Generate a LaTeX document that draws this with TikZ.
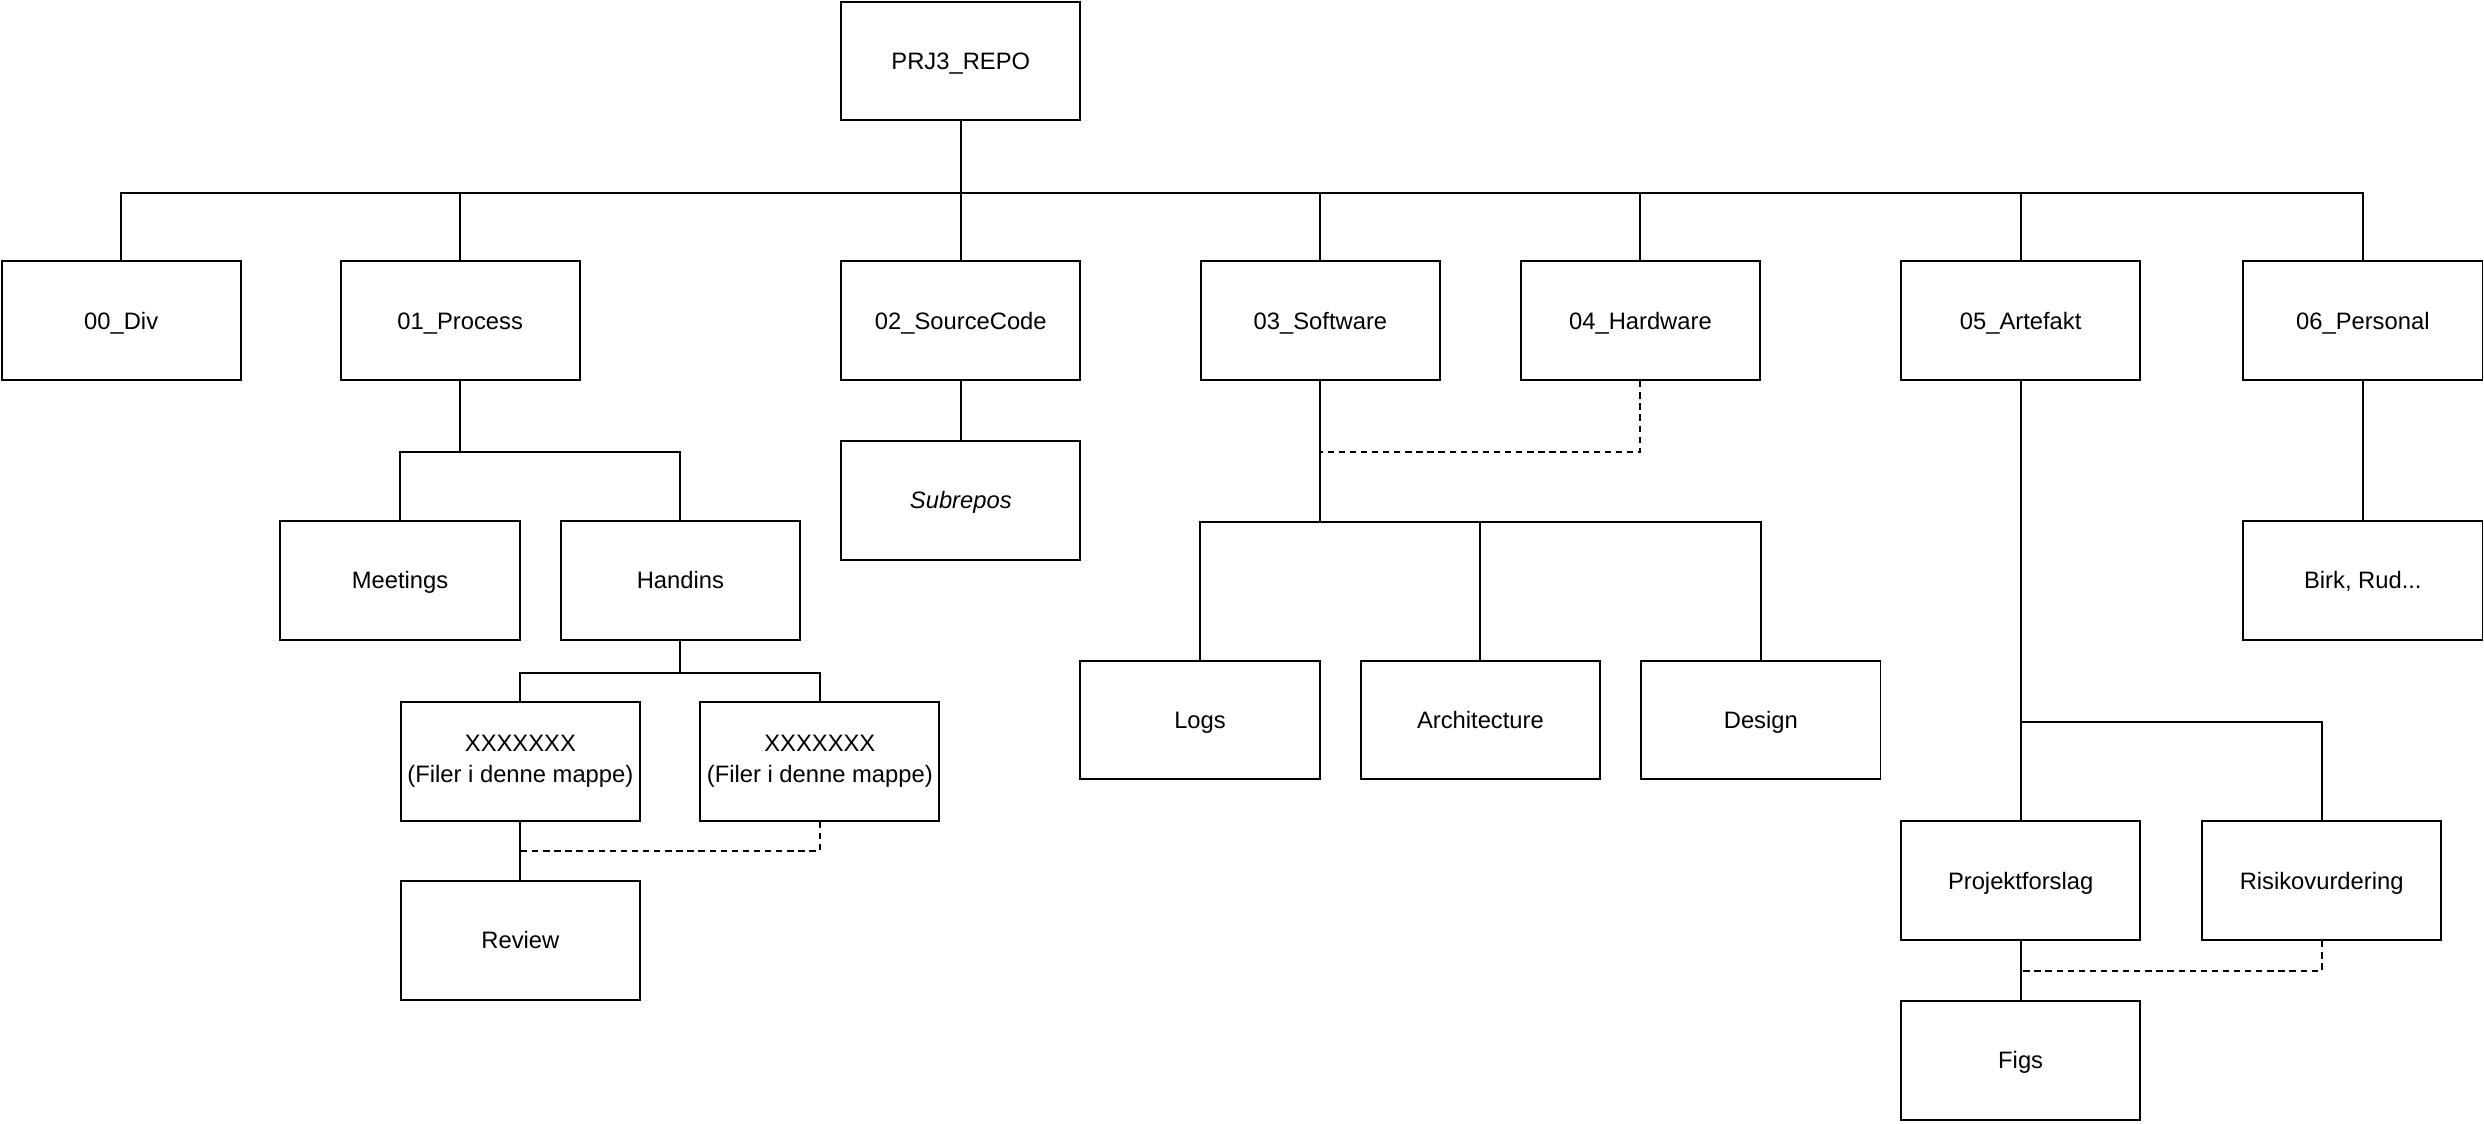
\documentclass[tikz,border=0pt]{standalone}
\usepackage{fontspec}
\setmainfont{Liberation Sans}
\usetikzlibrary{calc}
\usetikzlibrary{backgrounds}
\begin{document}
\begin{tikzpicture}[x=0.5pt, y=-0.5pt, line width=0.6pt,
    box/.style={draw=black, rectangle, minimum width=75.5pt, minimum height=37.5pt, inner sep=0pt, align=center, font=\fontsize{7.5}{10}\selectfont},
    folder/.style={box, text height=6.8pt, text depth=1.6pt},
    link/.style={line width=0.6pt},
    dotline/.style={line width=0.6pt, dash pattern=on 2pt off 1.5pt}]
      \useasboundingbox (0,0) rectangle (1568,709.5);
      \node[folder] (repo)  at (606.5,38.5)  {PRJ3\_REPO};

      \node[folder] (div)   at (76.5,202.5)  {00\_Div};
      \node[folder] (proc)  at (290.5,202.5) {01\_Process};
      \node[folder] (src)   at (606.5,202.5) {02\_SourceCode};
      \node[folder] (sw)    at (833.5,202.5) {03\_Software};
      \node[folder] (hw)    at (1035.5,202.5) {04\_Hardware};
      \node[folder] (art)   at (1275.5,202.5) {05\_Artefakt};
      \node[folder] (pers)  at (1491.5,202.5) {06\_Personal};

      \node[folder] (meet)  at (252.5,366.5) {Meetings};
      \node[folder] (hand)  at (429.5,366.5) {Handins};
      \node[box]    (x_1)   at (328.5,480.5) {\raisebox{-1pt}{XXXXXXX}\\\raisebox{-1pt}{(Filer i denne mappe)}};
      \node[box]    (x_2)   at (517.5,480.5) {\raisebox{-1pt}{XXXXXXX}\\\raisebox{-1pt}{(Filer i denne mappe)}};
      \node[folder] (rev)   at (328.5,593.5) {Review};

      \node[folder] (sub)   at (606.5,316)   {\itshape Subrepos};

      \node[folder] (logs)  at (757.5,454.5) {Logs};
      \node[folder] (arch)  at (934.5,454.5) {Architecture};
      \node[folder] (des)   at (1111.5,454.5) {Design};

      \node[folder] (proj)  at (1275.5,556)  {Projektforslag};
      \node[folder] (risk)  at (1465.5,556)  {Risikovurdering};
      \node[folder] (figs)  at (1275.5,669.5) {Figs};

      \node[folder] (birk)  at (1491.5,366.5) {Birk, Rud...};

      \foreach \c in {div,proc,src,sw,hw,art,pers}
        \draw[link] (repo.south) -- ++(0,45) -| (\c.north);
      \foreach \c in {meet,hand}
        \draw[link] (proc.south) -- ++(0,45) -| (\c.north);
      \foreach \c in {x_1,x_2}
        \draw[link] (hand.south) -- ++(0,20) -| (\c.north);
      \draw[link] (x_1.south) -- (rev.north);
      \coordinate (revjoin) at ($(x_1.south)!.5!(rev.north)$);
      \draw[dotline] (x_2.south) |- (revjoin);

      \draw[link] (src.south) -- (sub.north);

      \foreach \c in {logs,arch,des}
        \draw[link] (sw.south) -- ++(0,89) -| (\c.north);
      \coordinate (swjoin) at ($(sw.south)+(0,44.5)$);
      \draw[dotline] (hw.south) |- (swjoin);

      \draw[link] (art.south) -- (proj.north);
      \draw[link] (art.south) -- ++(0,215) -| (risk.north);
      \draw[link] (proj.south) -- (figs.north);
      \coordinate (figjoin) at ($(proj.south)!.5!(figs.north)$);
      \draw[dotline] (risk.south) |- (figjoin);

      \draw[link] (pers.south) -- (birk.north);
    \end{tikzpicture}
\end{document}
